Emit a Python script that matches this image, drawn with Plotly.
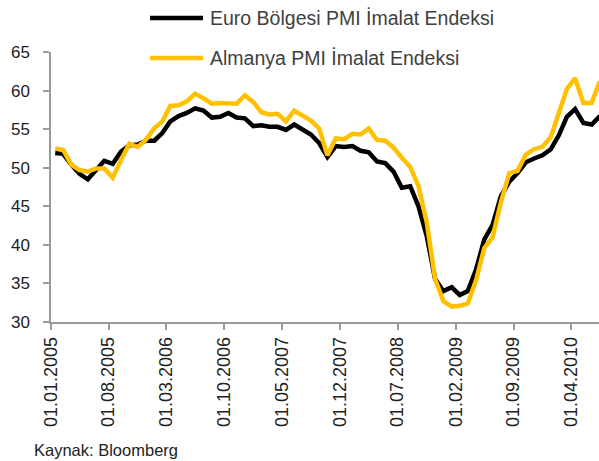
import pandas as pd
import plotly.graph_objects as go

# Monthly data, Jan 2005 - Jul 2010
months = pd.date_range("2005-01-01", periods=67, freq="MS")

euro_pmi = [
    51.9, 51.8, 50.4, 49.2, 48.5, 49.6, 50.9, 50.5, 52.1, 52.9, 53.0, 53.5,
    53.5, 54.5, 56.0, 56.7, 57.1, 57.7, 57.4, 56.5, 56.6, 57.1, 56.5, 56.4,
    55.4, 55.5, 55.3, 55.3, 54.9, 55.6, 54.9, 54.3, 53.2, 51.4, 52.8, 52.7,
    52.8, 52.2, 52.0, 50.8, 50.6, 49.5, 47.4, 47.6, 45.0, 41.1, 35.6, 34.0,
    34.5, 33.5, 34.0, 36.8, 40.7, 42.6, 46.3, 48.2, 49.3, 50.7, 51.2, 51.6,
    52.4, 54.2, 56.6, 57.6, 55.8, 55.6, 56.7,
]

germany_pmi = [
    52.5, 52.3, 50.4, 49.7, 49.5, 49.9, 49.9, 48.7, 51.0, 53.1, 52.7, 53.6,
    55.1, 56.0, 58.0, 58.1, 58.6, 59.6, 59.0, 58.3, 58.4, 58.3, 58.3, 59.4,
    58.5, 57.2, 56.9, 57.0, 56.0, 57.4, 56.8, 56.1, 55.1, 51.6, 53.8, 53.7,
    54.4, 54.3, 55.1, 53.6, 53.5, 52.6, 51.3, 50.1, 47.6, 42.9, 35.6, 32.7,
    32.0, 32.1, 32.4, 35.4, 39.6, 41.0, 45.5, 49.3, 49.6, 51.7, 52.4, 52.7,
    54.0, 57.0, 60.2, 61.6, 58.4, 58.4, 61.2,
]

series_names = ["Euro Bölgesi PMI İmalat Endeksi", "Almanya PMI İmalat Endeksi"]
series_colors = ["#000000", "#FFC000"]

tick_labels = ["01.01.2005", "01.08.2005", "01.03.2006", "01.10.2006", "01.05.2007",
               "01.12.2007", "01.07.2008", "01.02.2009", "01.09.2009", "01.04.2010"]
tick_dates = pd.to_datetime(tick_labels, format="%d.%m.%Y")

y_ticks = [30, 35, 40, 45, 50, 55, 60, 65]

source_text = "Kaynak: Bloomberg"

fig = go.Figure()
for vals, name, col in zip([euro_pmi, germany_pmi], series_names, series_colors):
    fig.add_trace(go.Scatter(
        x=months, y=vals, mode="lines", name=name,
        line=dict(color=col, width=4.5),
        xperiod="M1", xperiodalignment="middle",
        showlegend=False, hoverinfo="skip",
    ))

axis_gray = "#9a9a9a"
fig.update_layout(
    width=599, height=461,
    margin=dict(l=51, r=0, t=52, b=139, autoexpand=False),
    paper_bgcolor="white", plot_bgcolor="white",
    showlegend=False,
    xaxis=dict(
        type="date", range=["2005-01-01", "2010-07-13"], automargin=False,
        tickmode="array", tickvals=tick_dates, ticktext=tick_labels,
        tickangle=-90, ticks="outside", ticklen=6, tickwidth=1.5, tickcolor=axis_gray,
        showline=True, linecolor=axis_gray, linewidth=1.5,
        showgrid=False, zeroline=False,
        tickfont=dict(family="Liberation Sans, Arial, sans-serif", size=18, color="#222222"),
    ),
    yaxis=dict(
        range=[30, 65], tickmode="array", tickvals=y_ticks, automargin=False,
        ticks="outside", ticklen=6, tickwidth=1.5, tickcolor=axis_gray,
        showline=True, linecolor=axis_gray, linewidth=1.5,
        showgrid=False, zeroline=False, ticklabelstandoff=10,
        tickfont=dict(family="Liberation Sans, Arial, sans-serif", size=17, color="#222222"),
    ),
)

# Legend (drawn manually to match the reference layout)
leg_y = [1.1259, 0.9778]
for yy, name, col in zip(leg_y, series_names, series_colors):
    fig.add_shape(type="line", xref="paper", yref="paper",
                  x0=0.1807, x1=0.2774, y0=yy, y1=yy,
                  line=dict(color=col, width=4.5))
    fig.add_annotation(xref="paper", yref="paper", x=0.2865, y=yy,
                       xanchor="left", yanchor="middle", showarrow=False,
                       text=name,
                       font=dict(family="Liberation Sans, Arial, sans-serif",
                                 size=19.5, color="#404040"))

fig.add_annotation(xref="paper", yref="paper", x=-0.0347, y=-0.433,
                   xanchor="left", yanchor="top", showarrow=False,
                   text=source_text,
                   font=dict(family="Liberation Sans, Arial, sans-serif", size=16.5, color="#222222"))

fig.write_html("out.html",
               config={"displayModeBar": False},
               post_script="document.body.style.margin='0';document.body.style.padding='0';"
                           "document.documentElement.style.overflow='hidden';")
